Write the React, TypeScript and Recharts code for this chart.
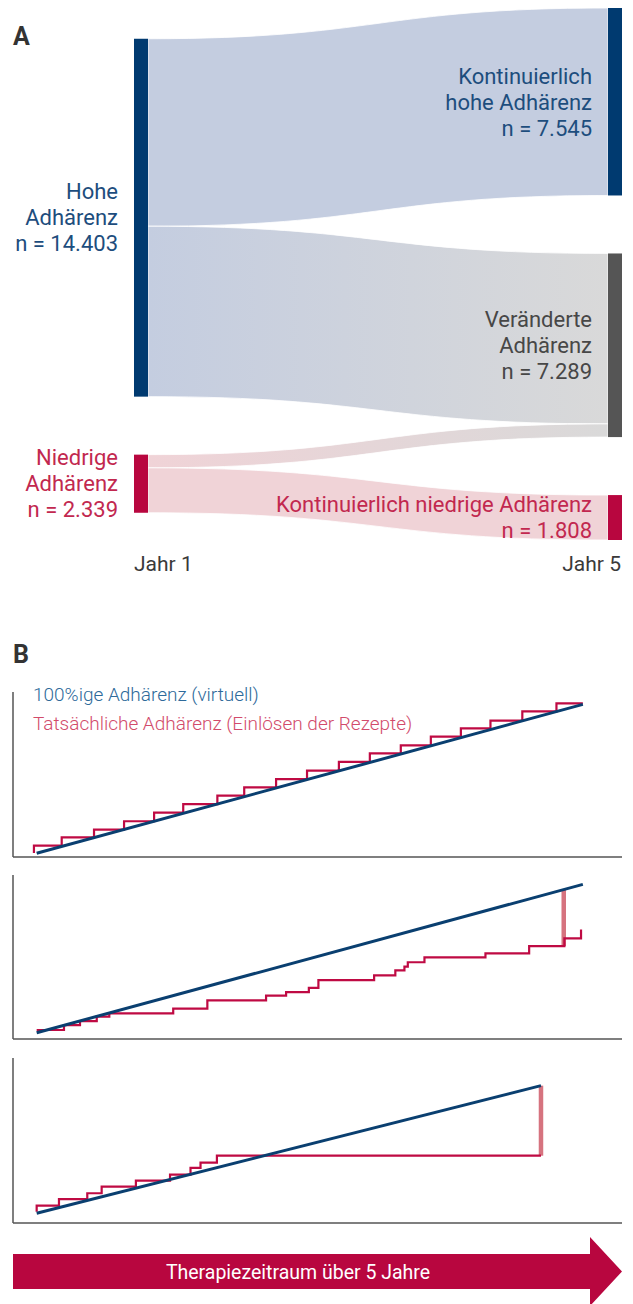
import React from 'react';
import { Sankey, LineChart, Line, XAxis, YAxis } from 'recharts';

const FONT = 'Roboto, "Noto Sans", "DejaVu Sans", sans-serif';

// ---------- A: Adhärenz-Gruppen, Jahr 1 -> Jahr 5 ----------
const nodeNames = [
  'Hohe Adhärenz',
  'Niedrige Adhärenz',
  'Kontinuierlich hohe Adhärenz',
  'Veränderte Adhärenz',
  'Kontinuierlich niedrige Adhärenz',
];
const nodeLabels = [
  ['Hohe', 'Adhärenz', 'n = 14.403'],
  ['Niedrige', 'Adhärenz', 'n = 2.339'],
  ['Kontinuierlich', 'hohe Adhärenz', 'n = 7.545'],
  ['Veränderte', 'Adhärenz', 'n = 7.289'],
  ['Kontinuierlich niedrige Adhärenz', 'n = 1.808'],
];
const flowSource = [0, 0, 1, 1];
const flowTarget = [2, 3, 3, 4];
const flowValue = [7545, 6858, 531, 1808];
const yearLabels = ['Jahr 1', 'Jahr 5'];

// ---------- B: Vorrat (Monate) über Therapiezeit (Monate) ----------
const idealMonths = [0, 60];
const idealShortMonths = [0, 55.4];

const regularMonths = [-0.3, -0.3, 2.75, 6.3, 9.6, 12.9, 16.1, 19.85, 22.8, 26.3, 29.7, 33.2, 36.6, 40.0, 43.3, 46.6, 49.85, 53.35, 57.1, 60];
const regularSupply = [0.1, 3.1, 6.4, 9.5, 12.9, 16.35, 19.85, 23.2, 26.6, 29.9, 33.3, 36.8, 40.3, 43.5, 47.0, 50.3, 53.5, 57.2, 60.4, 60.4];

const irregularMonths = [0, 3.0, 4.76, 6.6, 7.98, 15.0, 18.75, 25.2, 27.4, 29.9, 30.95, 37.07, 39.4, 40.4, 40.77, 42.6, 49.3, 54.1, 57.97, 59.8];
const irregularSupply = [1.1, 3.1, 4.7, 6.5, 7.85, 9.7, 13.1, 15.0, 16.45, 18.1, 21.3, 23.2, 25.2, 26.7, 28.5, 30.5, 32.1, 35.05, 38.2, 41.8];
const irregularGapMonths = [57.9, 57.9];
const irregularGapSupply = [35.05, 57.9];

const stoppedMonths = [0, 0, 2.45, 5.56, 7.14, 10.9, 14.65, 16.9, 18.0, 19.8, 55.4];
const stoppedSupply = [0.7, 3.3, 6.2, 8.7, 11.55, 14.15, 16.75, 19.7, 22.0, 25.0, 25.0];
const stoppedGapMonths = [55.4, 55.4];
const stoppedGapSupply = [25.0, 55.4];

const legendLabels = ['100%ige Adhärenz (virtuell)', 'Tatsächliche Adhärenz (Einlösen der Rezepte)'];
const arrowLabel = 'Therapiezeitraum über 5 Jahre';

// ---------- styles ----------
const NODE_FILL = ['#003a70', '#b8063f', '#003a70', '#555555', '#b8063f'];
const NODE_TEXT = ['#1d4d7d', '#c2284f', '#1d4d7d', '#474747', '#c2284f'];
const FLOW_FILL = ['#c4cde0', '#f0d3d7', '#c4cde0', '#d9d9d9', '#f0d3d7'];
const BLUE = '#0a3f70';
const RED = '#bf0a43';
const GAP = '#d6737f';
const AXIS = '#555555';
const MONTH_DOMAIN: [number, number] = [-2.6, 64.3];

const toPoints = (xs: number[], ys: number[]) => xs.map((x, i) => ({ x, y: ys[i] }));

const sankeyData = {
  nodes: nodeNames.map((name) => ({ name })),
  links: flowValue.map((value, i) => ({ source: flowSource[i], target: flowTarget[i], value })),
};

function FlowNode(props: any) {
  const { x, y, width, height, index } = props;
  const lines = nodeLabels[index];
  const cy = y + height / 2;
  const tx = x - 16;
  return (
    <g>
      <rect x={x} y={y} width={width} height={height} fill={NODE_FILL[index]} />
      <text textAnchor="end" fill={NODE_TEXT[index]} fontSize={22} fontFamily={FONT}>
        {lines.map((line, i) => (
          <tspan key={i} x={tx} y={cy + (i - (lines.length - 1) / 2) * 26 + 7.8}>
            {line}
          </tspan>
        ))}
      </text>
    </g>
  );
}

function FlowLink(props: any) {
  const { sourceX, targetX, sourceY, targetY, sourceControlX, targetControlX, linkWidth, index } = props;
  const h = linkWidth / 2;
  const id = `flow-grad-${index}`;
  const d =
    `M${sourceX},${sourceY - h} C${sourceControlX},${sourceY - h} ${targetControlX},${targetY - h} ${targetX},${targetY - h} ` +
    `L${targetX},${targetY + h} C${targetControlX},${targetY + h} ${sourceControlX},${sourceY + h} ${sourceX},${sourceY + h} Z`;
  return (
    <g>
      <defs>
        <linearGradient id={id} x1="0" y1="0" x2="1" y2="0">
          <stop offset="0%" stopColor={FLOW_FILL[flowSource[index]]} />
          <stop offset="100%" stopColor={FLOW_FILL[flowTarget[index]]} />
        </linearGradient>
      </defs>
      <path d={d} fill={`url(#${id})`} stroke="#ffffff" strokeWidth={0.8} />
    </g>
  );
}

function AdherenceChart(props: {
  top: number;
  height: number;
  yDomain: [number, number];
  ideal: { x: number; y: number }[];
  actual: { x: number; y: number }[];
  gap?: { x: number; y: number }[];
}) {
  const { top, height, yDomain, ideal, actual, gap } = props;
  return (
    <div style={{ position: 'absolute', left: 0, top }}>
      <LineChart width={633} height={height + 1} margin={{ top: 0, right: 11, bottom: 0, left: 12 }}>
        <XAxis
          type="number"
          dataKey="x"
          domain={MONTH_DOMAIN}
          allowDataOverflow
          height={1}
          tick={false}
          tickLine={false}
          axisLine={{ stroke: AXIS, strokeWidth: 1.5 }}
        />
        <YAxis
          type="number"
          dataKey="y"
          domain={yDomain}
          allowDataOverflow
          width={1}
          tick={false}
          tickLine={false}
          axisLine={{ stroke: AXIS, strokeWidth: 1.5 }}
        />
        {gap && (
          <Line data={gap} dataKey="y" type="linear" stroke={GAP} strokeWidth={4.5} dot={false} isAnimationActive={false} />
        )}
        <Line data={actual} dataKey="y" type="stepAfter" stroke={RED} strokeWidth={2.2} dot={false} isAnimationActive={false} />
        <Line data={ideal} dataKey="y" type="linear" stroke={BLUE} strokeWidth={3} dot={false} isAnimationActive={false} />
      </LineChart>
    </div>
  );
}

export default function App() {
  return (
    <div style={{ position: 'absolute', left: 0, top: 0, width: 633, height: 1304, background: '#fff', fontFamily: FONT }}>
      <div style={{ position: 'absolute', left: 0, top: 0 }}>
        <Sankey
          width={633}
          height={548}
          data={sankeyData}
          nodeWidth={14}
          nodePadding={58}
          iterations={64}
          sort={false}
          margin={{ top: 8, right: 11, bottom: 8, left: 134 }}
          node={(p: any) => <FlowNode {...p} />}
          link={(p: any) => <FlowLink {...p} />}
        />
      </div>

      <AdherenceChart
        top={692}
        height={165}
        yDomain={[-1.5, 65]}
        ideal={toPoints(idealMonths, idealMonths)}
        actual={toPoints(regularMonths, regularSupply)}
      />
      <AdherenceChart
        top={875}
        height={164}
        yDomain={[-2.55, 63.8]}
        ideal={toPoints(idealMonths, idealMonths)}
        actual={toPoints(irregularMonths, irregularSupply)}
        gap={toPoints(irregularGapMonths, irregularGapSupply)}
      />
      <AdherenceChart
        top={1058}
        height={165}
        yDomain={[-4.2, 67.4]}
        ideal={toPoints(idealShortMonths, idealShortMonths)}
        actual={toPoints(stoppedMonths, stoppedSupply)}
        gap={toPoints(stoppedGapMonths, stoppedGapSupply)}
      />

      <svg width={633} height={1304} style={{ position: 'absolute', left: 0, top: 0, pointerEvents: 'none' }}>
        <text x={13} y={45} fontSize={25} fontWeight={700} fill="#333333" fontFamily={FONT}>A</text>
        <text x={13} y={663} fontSize={25} fontWeight={700} fill="#333333" fontFamily={FONT}>B</text>
        <text x={134} y={571} fontSize={21} fill="#3a3a3a" fontFamily={FONT}>{yearLabels[0]}</text>
        <text x={621} y={571} fontSize={21} fill="#3a3a3a" fontFamily={FONT} textAnchor="end">{yearLabels[1]}</text>
        <text x={33} y={700.5} fontSize={19} fontWeight={300} fill="#2e6a9a" fontFamily={FONT}>{legendLabels[0]}</text>
        <text x={33} y={730} fontSize={19} fontWeight={300} fill="#d24b6b" fontFamily={FONT}>{legendLabels[1]}</text>
        <polygon
          points="13,1254 590,1254 590,1237 622,1271.5 590,1306 590,1289 13,1289"
          fill="#b8063f"
        />
        <text x={298} y={1278.5} fontSize={19.5} fill="#ffffff" fontFamily={FONT} textAnchor="middle">{arrowLabel}</text>
      </svg>
    </div>
  );
}
